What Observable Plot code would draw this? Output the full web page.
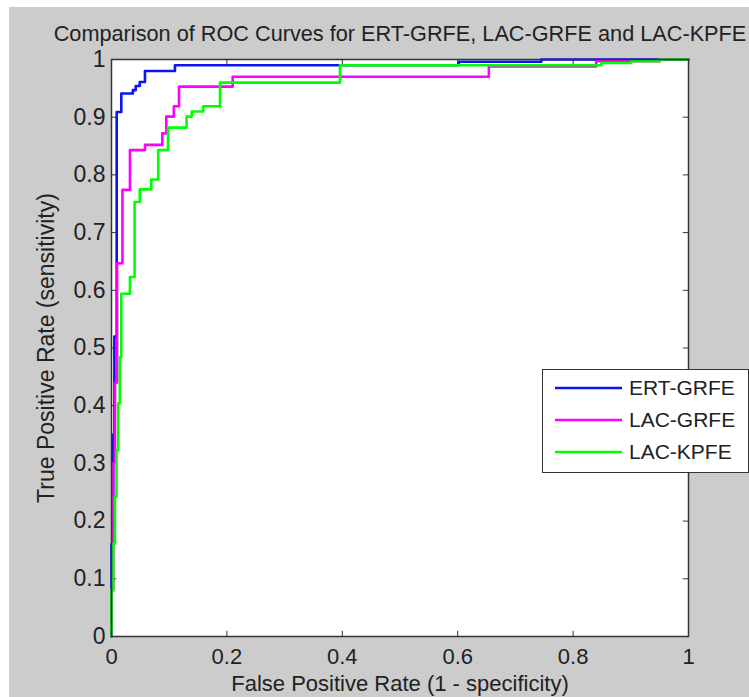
<!DOCTYPE html>
<html>
<head>
<meta charset="utf-8">
<script src="https://cdn.jsdelivr.net/npm/d3@7"></script>
<script src="https://cdn.jsdelivr.net/npm/@observablehq/plot@0.6"></script>
<style>
  html, body { margin: 0; padding: 0; background: #ffffff; overflow: hidden; }
  #fig { position: absolute; left: 9px; top: 7px; width: 740px; height: 690px; background: #cccccc; overflow: hidden;
         font-family: "Liberation Sans", Arial, sans-serif; }
  #title { position: absolute; left: 0; top: 16px; width: 782px; text-align: center; font-size: 21.7px; line-height: 22px; color: #222; white-space: nowrap; }
  #chart { position: absolute; left: 0; top: 45px; }
  #legend { position: absolute; left: 533px; top: 362px; width: 205px; height: 102px; background: #fff; border: 1px solid #333; }
  .row { position: absolute; left: 0; height: 26px; display: flex; align-items: center; font-size: 21px; color: #222; }
  .row svg { margin-left: 12px; margin-right: 7px; }
</style>
</head>
<body>
<div id="fig">
  <div id="title">Comparison of ROC Curves for ERT-GRFE, LAC-GRFE and LAC-KPFE</div>
  <div id="chart"></div>
  <div id="legend"></div>
</div>
<script>
// Series names and colours
const seriesNames = ["ERT-GRFE", "LAC-GRFE", "LAC-KPFE"];
const seriesColors = ["#0a14f5", "#ff00ff", "#00ff00"];

// ROC step corners (step-after: move right at old TPR, then up to new TPR)
const ertFpr = [0, 0, 0.003, 0.005, 0.009, 0.017, 0.037, 0.042, 0.049, 0.058, 0.11, 0.602, 0.745, 1];
const ertTpr = [0, 0.16, 0.35, 0.52, 0.909, 0.941, 0.947, 0.954, 0.961, 0.98, 0.99, 0.996, 1, 1];

const lacgFpr = [0, 0, 0.003, 0.006, 0.0097, 0.019, 0.032, 0.058, 0.088, 0.095, 0.108, 0.117, 0.21, 0.654, 0.84, 0.95, 1];
const lacgTpr = [0, 0.08, 0.3, 0.44, 0.647, 0.774, 0.843, 0.852, 0.872, 0.901, 0.919, 0.953, 0.97, 0.988, 0.997, 1, 1];

const lackFpr = [0, 0, 0.003, 0.006, 0.0087, 0.0115, 0.0144, 0.017, 0.032, 0.04, 0.049, 0.069, 0.081, 0.098, 0.13, 0.139, 0.159, 0.188, 0.396, 0.849, 0.9, 0.95, 1];
const lackTpr = [0, 0.08, 0.161, 0.242, 0.323, 0.404, 0.484, 0.594, 0.623, 0.753, 0.775, 0.792, 0.843, 0.882, 0.901, 0.91, 0.919, 0.96, 0.99, 0.994, 0.997, 1, 1];

// Tick values
const xTicks = [0, 0.2, 0.4, 0.6, 0.8, 1];
const yTicks = [0, 0.1, 0.2, 0.3, 0.4, 0.5, 0.6, 0.7, 0.8, 0.9, 1];

const seriesFpr = [ertFpr, lacgFpr, lackFpr];
const seriesTpr = [ertTpr, lacgTpr, lackTpr];
const rows = [];
seriesNames.forEach((name, s) => {
  seriesFpr[s].forEach((x, i) => rows.push({series: name, x, y: seriesTpr[s][i]}));
});

const tk = 0.009;
const plot = Plot.plot({
  width: 740,
  height: 645,
  marginLeft: 102,
  marginRight: 61,
  marginTop: 7,
  marginBottom: 61,
  style: {background: "transparent", overflow: "visible", fontFamily: "'Liberation Sans', Arial, sans-serif", fontSize: "21.5px", color: "#222"},
  x: {domain: [0, 1], ticks: xTicks, tickFormat: d => String(d), tickSize: 0, tickPadding: 12},
  y: {domain: [0, 1], ticks: yTicks, tickFormat: d => String(d), tickSize: 0, tickPadding: 6},
  color: {domain: seriesNames, range: seriesColors},
  marks: [
    Plot.frame({fill: "white"}),
    Plot.ruleX(xTicks, {x: d => d, y1: 0, y2: tk, stroke: "#333"}),
    Plot.ruleX(xTicks, {x: d => d, y1: 1 - tk, y2: 1, stroke: "#333"}),
    Plot.ruleY(yTicks, {y: d => d, x1: 0, x2: tk, stroke: "#333"}),
    Plot.ruleY(yTicks, {y: d => d, x1: 1 - tk, x2: 1, stroke: "#333"}),
    Plot.line(rows, {x: "x", y: "y", z: "series", stroke: "series", strokeWidth: 2.6, curve: "step-after"}),
    Plot.frame({stroke: "#333", strokeWidth: 1.5}),
    Plot.axisX({ticks: xTicks, tickSize: 0, tickPadding: 12, tickFormat: d => String(d),
      label: "False Positive Rate (1 - specificity)", labelAnchor: "center", labelArrow: "none", labelOffset: 54, fontSize: 22}),
    Plot.axisY({ticks: yTicks, tickSize: 0, tickPadding: 6, tickFormat: d => String(d),
      label: "True Positive Rate (sensitivity)", labelAnchor: "center", labelArrow: "none", labelOffset: 74, fontSize: 23})
  ]
});
document.getElementById("chart").appendChild(plot);

// Legend
const legend = document.getElementById("legend");
seriesNames.forEach((name, i) => {
  const row = document.createElement("div");
  row.className = "row";
  row.style.top = (5 + i * 32) + "px";
  row.innerHTML = `<svg width="67" height="6"><line x1="0" x2="67" y1="3" y2="3" stroke="${seriesColors[i]}" stroke-width="2.6"/></svg><span>${name}</span>`;
  legend.appendChild(row);
});
</script>
</body>
</html>
